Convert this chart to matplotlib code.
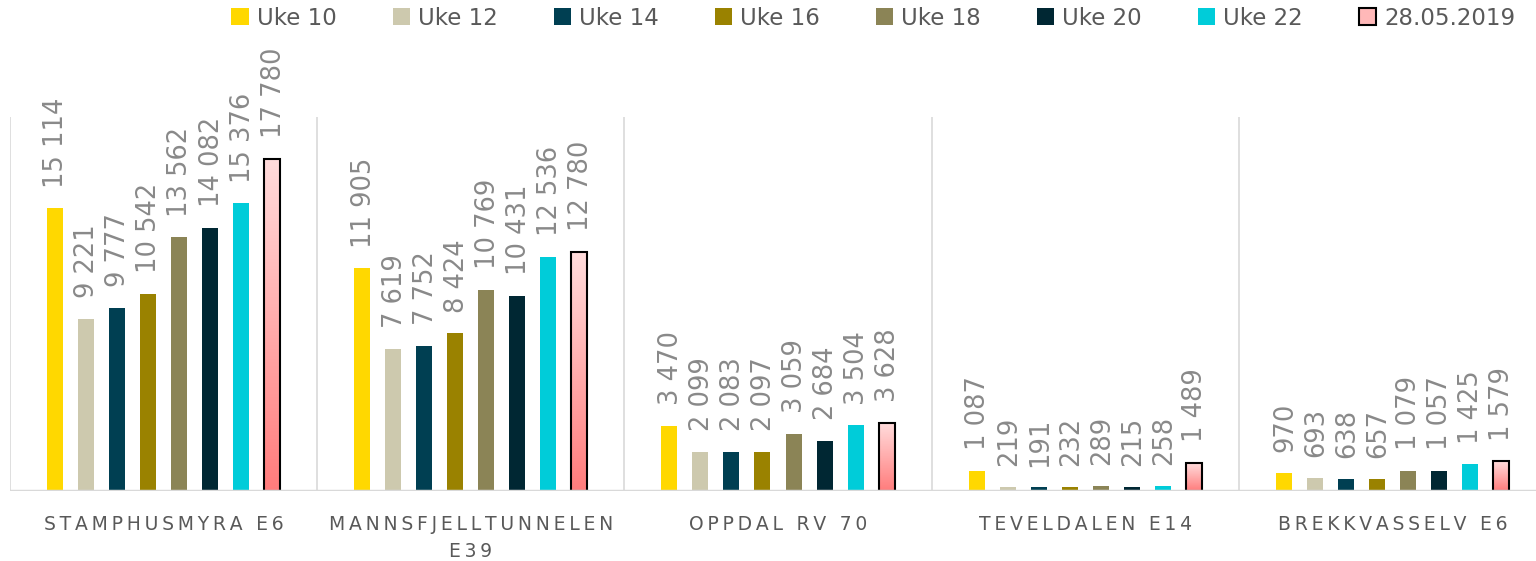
import matplotlib.pyplot as plt
import numpy as np
from matplotlib.colors import LinearSegmentedColormap
from matplotlib.patches import Patch

# data
locations = ["STAMPHUSMYRA E6", "MANNSFJELLTUNNELEN\nE39", "OPPDAL RV 70",
             "TEVELDALEN E14", "BREKKVASSELV E6"]
series = ["Uke 10", "Uke 12", "Uke 14", "Uke 16", "Uke 18", "Uke 20", "Uke 22", "28.05.2019"]
uke10 = [15114, 11905, 3470, 1087, 970]
uke12 = [9221, 7619, 2099, 219, 693]
uke14 = [9777, 7752, 2083, 191, 638]
uke16 = [10542, 8424, 2097, 232, 657]
uke18 = [13562, 10769, 3059, 289, 1079]
uke20 = [14082, 10431, 2684, 215, 1057]
uke22 = [15376, 12536, 3504, 258, 1425]
may28 = [17780, 12780, 3628, 1489, 1579]
values = [uke10, uke12, uke14, uke16, uke18, uke20, uke22, may28]

colors = ["#FFD800", "#CDC9AE", "#003F52", "#9A8200", "#8B8456", "#002733", "#00CCD9"]
pink = LinearSegmentedColormap.from_list("pink", ["#FF7C7C", "#FFDCDC"])

fig = plt.figure(figsize=(15.36, 5.61), dpi=100)
ax = fig.add_axes([10 / 1536, 70 / 561, 1536 / 1536, 374 / 561])

x = np.arange(len(locations))
slot = 31 / 307
width = 16 / 307

def fmt(v):
    return f"{v:,}".replace(",", " ")

for i, (name, vals) in enumerate(zip(series, values)):
    xs = x + (i - 3.5) * slot
    if i < 7:
        ax.bar(xs, vals, width, color=colors[i], zorder=3)
    else:
        # gradient fill per bar, light at the top
        grad = np.linspace(0, 1, 256).reshape(-1, 1)
        for xi, v in zip(xs, vals):
            ax.imshow(grad, extent=[xi - width / 2, xi + width / 2, 0, v],
                      origin="lower", aspect="auto", cmap=pink, zorder=3)
        ax.bar(xs, vals, width, facecolor="none", edgecolor="black",
               linewidth=1.5, zorder=4)
    for xi, v in zip(xs, vals):
        ax.annotate(fmt(v), (xi, v), xytext=(1, 15), textcoords="offset points",
                    rotation=90, ha="center", va="bottom", fontsize=18.5,
                    color="#898989", annotation_clip=False)

ax.set_xlim(-0.5, len(locations) - 0.5)
ax.set_ylim(0, 20000)

for b in np.arange(-0.5, len(locations), 1):
    ax.axvline(b, color="#D9D9D9", lw=1.2, zorder=1)
ax.axhline(0, color="#D9D9D9", lw=2.5, zorder=5)

for s in ax.spines.values():
    s.set_visible(False)
ax.set_yticks([])
ax.set_xticks(x)
spaced = ["\u2009".join(list(l)).replace("\u2009\n\u2009", "\n") for l in locations]
ax.set_xticklabels(spaced, fontsize=13.5, color="#595959", linespacing=1.55)
ax.tick_params(axis="x", length=0, pad=17)

handles = [Patch(facecolor=c) for c in colors]
handles.append(Patch(facecolor="#FFB8B8", edgecolor="black", linewidth=1.5))
fig.legend(handles, series, loc="upper right", bbox_to_anchor=(1.0, 1.025),
           ncol=8, frameon=False, fontsize=16.5, handlelength=0.75, handleheight=0.75,
           handletextpad=0.35, columnspacing=2.45, labelcolor="#595959")

fig.savefig("out.png", dpi=100)
